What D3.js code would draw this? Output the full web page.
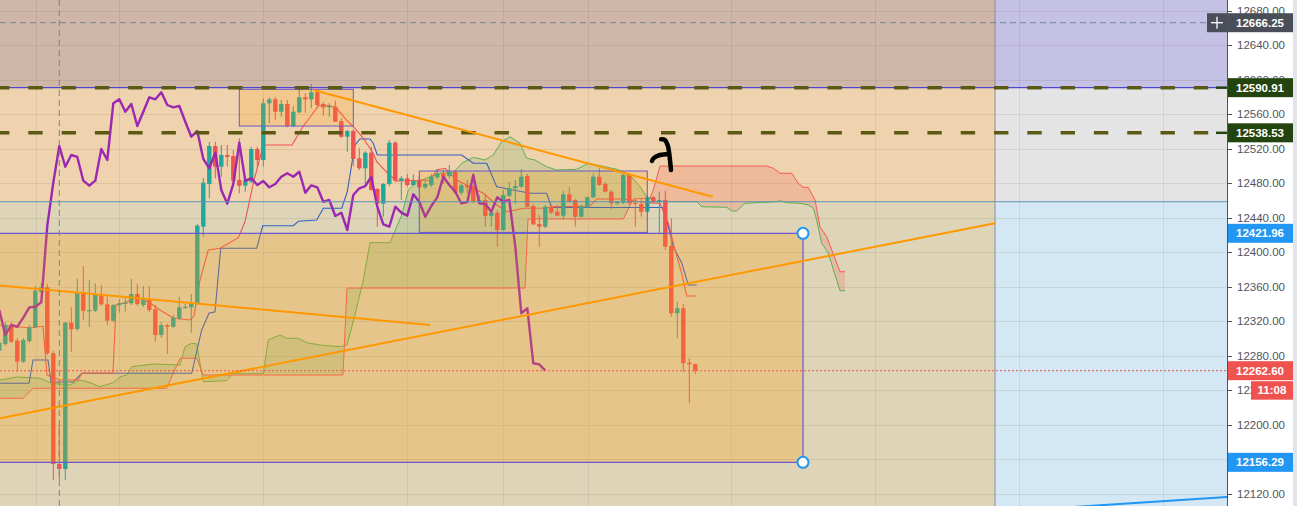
<!DOCTYPE html>
<html><head><meta charset="utf-8">
<script src="https://cdn.jsdelivr.net/npm/d3@7"></script>
<style>
html,body{margin:0;padding:0;background:#fff;overflow:hidden}
svg{display:block;font-family:"Liberation Sans",Arial,sans-serif}
</style></head><body>
<svg id="c" width="1297" height="506"></svg>
<script>
// ---------------- DATA ----------------
const firstIndex = -1;
const opens = [12285.8,12293.6,12315.6,12297.4,12273.0,12297.0,12312.9,12353.9,12359.3,12282.8,12154.4,12148.6,12318.3,12311.0,12353.1,12331.5,12332.2,12350.4,12339.6,12320.6,12338.5,12340.0,12340.8,12351.6,12338.8,12345.4,12333.8,12304.0,12315.6,12313.6,12322.9,12335.3,12336.1,12340.8,12429.6,12479.2,12523.2,12499.2,12512.8,12511.6,12483.8,12477.2,12481.8,12519.8,12507.0,12572.8,12577.4,12563.0,12572.0,12546.4,12562.3,12579.7,12577.4,12585.5,12572.0,12568.1,12568.8,12552.2,12534.0,12540.6,12509.0,12497.4,12515.5,12473.4,12456.3,12479.2,12527.1,12483.0,12485.8,12478.0,12482.6,12475.3,12478.0,12486.9,12491.6,12488.4,12493.4,12469.1,12477.6,12476.8,12458.6,12460.6,12442.0,12445.9,12425.8,12465.6,12474.2,12476.0,12488.4,12453.6,12432.8,12429.6,12452.8,12447.0,12442.4,12467.2,12460.6,12441.2,12452.1,12463.7,12487.6,12479.2,12470.2,12456.8,12457.5,12489.6,12457.5,12456.0,12447.0,12463.7,12459.1,12460.6,12407.2,12329.2,12335.0,12271.9,12270.4];
const highs = [12298.2,12319.1,12319.1,12300.5,12300.5,12315.6,12360.8,12364.3,12363.2,12285.4,12199.6,12319.1,12336.1,12369.0,12384.0,12367.8,12364.0,12362.0,12348.4,12340.0,12345.4,12346.6,12369.0,12363.2,12360.8,12360.8,12338.8,12319.1,12316.8,12327.2,12348.4,12340.0,12351.6,12432.8,12486.1,12527.9,12528.2,12524.4,12524.4,12518.6,12532.2,12485.0,12522.1,12522.1,12578.6,12579.7,12580.1,12576.6,12576.6,12569.6,12591.3,12584.4,12595.2,12588.2,12574.3,12572.8,12575.8,12555.4,12541.8,12543.0,12520.6,12517.4,12522.4,12474.5,12480.3,12530.2,12529.0,12488.4,12490.8,12490.4,12488.4,12483.8,12490.8,12496.2,12495.4,12501.2,12495.4,12479.2,12483.8,12491.6,12466.4,12467.6,12447.8,12449.0,12472.2,12481.8,12483.8,12496.2,12490.8,12456.0,12443.2,12454.8,12454.8,12454.8,12471.4,12475.3,12461.8,12454.8,12464.7,12491.6,12497.4,12481.5,12472.2,12459.4,12491.6,12491.6,12462.6,12462.6,12465.2,12465.2,12470.2,12471.4,12439.4,12342.6,12340.0,12277.0,12270.9];
const lows = [12284.3,12291.2,12294.7,12261.4,12271.5,12294.7,12312.1,12352.7,12280.8,12135.8,12135.8,12135.8,12284.6,12308.6,12321.4,12313.3,12330.7,12337.6,12315.6,12319.1,12329.9,12331.0,12338.8,12337.6,12336.5,12330.7,12296.2,12300.5,12282.0,12312.1,12321.4,12334.2,12306.7,12338.8,12418.0,12462.6,12485.8,12487.6,12499.2,12481.5,12468.4,12470.2,12480.3,12499.2,12499.2,12549.6,12553.4,12557.2,12544.9,12544.9,12561.5,12561.9,12567.0,12567.0,12558.4,12557.2,12551.1,12532.5,12516.6,12500.0,12495.4,12478.0,12471.4,12429.6,12441.2,12476.8,12481.5,12460.6,12475.7,12476.8,12472.2,12473.4,12475.7,12485.0,12479.2,12486.1,12467.6,12466.4,12468.7,12457.1,12457.1,12429.6,12429.6,12406.4,12424.6,12464.1,12456.0,12474.5,12451.9,12431.6,12406.4,12428.1,12444.4,12442.0,12438.2,12457.7,12429.6,12440.3,12451.0,12462.6,12476.8,12469.1,12449.8,12454.8,12456.0,12455.4,12429.6,12441.2,12445.9,12457.1,12422.0,12402.6,12325.2,12300.2,12261.4,12224.8,12258.8];
const closes = [12295.1,12315.6,12296.2,12273.0,12298.2,12312.9,12355.4,12359.3,12282.8,12154.4,12148.6,12318.3,12310.6,12353.1,12332.2,12333.0,12350.4,12339.6,12320.6,12338.8,12340.8,12341.5,12351.6,12340.0,12345.4,12333.0,12304.0,12315.6,12313.6,12324.1,12336.1,12336.8,12341.9,12430.8,12480.7,12523.2,12499.2,12512.8,12510.5,12483.0,12477.2,12483.0,12519.8,12507.0,12572.8,12577.4,12563.0,12572.0,12546.4,12563.0,12579.7,12577.4,12585.5,12570.8,12568.1,12569.6,12551.4,12534.0,12540.6,12508.2,12497.4,12515.5,12472.2,12456.3,12479.2,12527.1,12483.0,12485.8,12478.0,12482.6,12475.3,12479.2,12487.6,12491.6,12487.6,12493.4,12469.1,12477.6,12475.3,12458.6,12460.6,12442.0,12445.9,12425.8,12466.4,12474.2,12476.8,12487.6,12452.8,12432.4,12429.6,12452.8,12445.9,12442.4,12467.2,12458.6,12441.2,12453.6,12463.7,12487.6,12478.0,12470.2,12456.8,12458.3,12489.6,12456.8,12456.0,12447.0,12463.7,12458.6,12460.6,12406.4,12329.2,12335.0,12271.2,12270.0,12262.6];

// lagging span (purple), starts at bar index -1
const chikouStart = -1;
const chikou = [12333.0,12304.0,12315.6,12313.6,12324.1,12336.1,12336.8,12341.9,12430.8,12480.7,12523.2,12499.2,12512.8,12510.5,12483.0,12477.2,12483.0,12519.8,12507.0,12572.8,12577.4,12563.0,12572.0,12546.4,12563.0,12579.7,12577.4,12585.5,12570.8,12568.1,12569.6,12551.4,12534.0,12540.6,12508.2,12497.4,12515.5,12472.2,12456.3,12479.2,12527.1,12483.0,12485.8,12478.0,12482.6,12475.3,12479.2,12487.6,12491.6,12487.6,12493.4,12469.1,12477.6,12475.3,12458.6,12460.6,12442.0,12445.9,12425.8,12466.4,12474.2,12476.8,12487.6,12452.8,12432.4,12429.6,12452.8,12445.9,12442.4,12467.2,12458.6,12441.2,12453.6,12463.7,12487.6,12478.0,12470.2,12456.8,12458.3,12489.6,12456.8,12456.0,12447.0,12463.7,12458.6,12460.6,12406.4,12329.2,12335.0,12271.2,12270.0,12262.6];

// [bar index, price]
const tenkan = [[-0.88,12315.6],[4.12,12312.1],[6.28,12314.4],[6.95,12257.6],[9.12,12251.8],[12.12,12251.8],[12.78,12259.9],[17.95,12259.9],[18.45,12338.8],[20.28,12342.3],[21.95,12348.1],[24.12,12341.1],[25.78,12333.0],[27.95,12323.7],[30.78,12321.4],[31.45,12326.0],[32.45,12367.8],[33.83,12402.6],[35.78,12404.6],[38.83,12416.9],[39.95,12435.4],[41.33,12480.0],[43.0,12524.4],[47.78,12524.4],[49.67,12546.4],[51.07,12559.2],[52.17,12570.0],[54.12,12570.0],[55.23,12567.0],[56.62,12555.4],[58.28,12543.8],[59.67,12532.2],[61.33,12514.8],[61.9,12505.0],[63.83,12490.8],[65.23,12482.6],[70.78,12483.8],[71.9,12495.4],[73.28,12497.4],[75.23,12483.8],[77.45,12476.0],[79.67,12468.4],[81.9,12454.8],[83.57,12447.0],[86.33,12451.0],[90.23,12451.3],[91.33,12452.8],[97.45,12453.6],[98.57,12461.8],[103.0,12461.8],[106.9,12457.5],[109.12,12456.8],[110.5,12433.6],[111.62,12402.6],[112.73,12375.6],[113.57,12349.2],[115.0,12349.2]];
const kijun = [[-0.88,12248.0],[3.95,12248.0],[4.62,12275.0],[7.12,12275.0],[7.62,12249.5],[11.28,12249.5],[12.78,12259.6],[31.07,12259.6],[32.73,12309.8],[33.95,12329.2],[34.95,12331.0],[35.9,12404.6],[41.9,12404.6],[42.9,12430.8],[48.0,12430.8],[48.83,12435.9],[51.9,12437.4],[53.0,12451.0],[56.07,12451.0],[57.0,12470.2],[57.9,12509.0],[58.28,12524.4],[59.12,12531.4],[60.78,12531.4],[61.33,12526.4],[62.0,12512.8],[76.07,12512.8],[78.0,12503.2],[80.23,12503.2],[81.9,12476.0],[83.0,12474.5],[87.45,12468.4],[90.23,12468.4],[91.07,12451.9],[109.62,12451.9],[110.5,12429.6],[111.33,12406.4],[112.73,12387.8],[113.83,12362.0],[115.23,12362.0]];
const spanA = [[-0.88,12251.8],[1.9,12255.3],[5.78,12253.8],[7.73,12248.0],[10.78,12246.0],[12.45,12251.8],[14.12,12248.7],[15.78,12244.0],[18.0,12248.7],[19.12,12255.6],[20.23,12257.6],[21.07,12267.2],[24.67,12270.4],[29.12,12269.2],[29.95,12290.4],[31.07,12294.4],[31.9,12293.6],[33.0,12249.8],[36.9,12251.0],[38.0,12259.6],[43.0,12259.6],[43.83,12298.2],[45.78,12304.0],[46.9,12300.2],[48.83,12300.2],[50.23,12295.1],[52.45,12292.4],[55.78,12290.4],[56.95,12292.4],[58.28,12327.2],[59.67,12367.8],[60.78,12411.1],[64.12,12411.1],[66.07,12443.2],[67.17,12472.2],[68.57,12481.8],[72.45,12491.6],[74.67,12492.3],[76.07,12503.2],[78.0,12510.1],[79.95,12507.0],[81.33,12512.8],[82.73,12528.2],[84.12,12534.0],[85.78,12526.4],[86.9,12509.0],[88.28,12507.0],[90.23,12499.2],[91.9,12495.4],[95.23,12496.2],[97.17,12503.2],[98.57,12501.2],[101.9,12496.2],[104.12,12489.6],[105.78,12476.0],[106.9,12464.4],[108.28,12458.6],[115.23,12458.6],[116.07,12452.8],[120.23,12452.1],[121.07,12447.8],[121.9,12447.8],[123.28,12456.8],[128.57,12458.6],[129.12,12459.8],[130.23,12457.5],[132.45,12456.8],[133.83,12454.8],[134.67,12451.0],[135.23,12437.4],[136.07,12410.4],[137.17,12398.8],[139.12,12355.4],[139.95,12355.4]];
const spanB = [[-0.88,12230.6],[2.95,12230.6],[4.62,12242.2],[26.9,12242.2],[28.0,12259.6],[29.12,12277.0],[31.9,12277.0],[33.0,12257.6],[56.28,12257.6],[56.95,12358.5],[86.62,12358.5],[87.12,12438.6],[103.0,12438.6],[104.67,12461.8],[107.45,12462.6],[108.0,12472.2],[109.12,12500.0],[126.9,12500.0],[128.0,12497.4],[129.12,12491.6],[131.07,12491.6],[132.17,12480.0],[133.0,12475.3],[133.83,12475.3],[134.95,12460.6],[135.78,12429.6],[136.9,12418.0],[139.12,12377.4],[139.95,12377.4]];
const cloudCross = 107.3;

// drawings
const trendDown = [[51.33,12588.2],[117.9,12464.4]];
const trendFlat = [[-0.88,12361.4],[70.78,12315.6]];
const trendUp = [[-0.88,12207.4],[164.95,12433.6]];
const blueRay = [[175,12103.1],[204,12116.3]];
const boxTop = [[39.0,12589.0],[58.0,12546.4]];
const boxMid = [[69.0,12494.2],[107.0,12423.0]];
const brush1 = [[109.3,12531.0],[109.9,12530.4],[110.4,12524.0],[110.62,12516.3],[110.78,12507.0],[110.95,12495.4]];
const brush2 = [[107.78,12506.0],[108.12,12509.5],[109.12,12512.8],[110.62,12514.0]];
const zoneSplitIdx = 164.95;
const rangeEndIdx = 132.95;
const levelTop = 12590.91, levelSecond = 12538.53, levelBlue = 12458.6;
const rangeHigh = 12421.96, rangeLow = 12156.29;
const lastPrice = 12262.60;
const crossPrice = 12666.25, crossIdx = 9;
const gridIdx = [5.1,19,43,67,83,97.1,121,145,169,193];
// tick values; 12160 is fully covered by the 12156.29 tag in the reference
const yTicks = [12120,12200,12240,12280,12320,12360,12400,12440,12480,12520,12560,12600,12640,12680];
const gridTicks = [12120,12160,12200,12240,12280,12320,12360,12400,12440,12480,12520,12560,12600,12640,12680];
const tags = [
  {v:12666.25, t:"12666.25", bg:"#4a4e59"},
  {v:12590.91, t:"12590.91", bg:"#24440f"},
  {v:12538.53, t:"12538.53", bg:"#24440f"},
  {v:12421.96, t:"12421.96", bg:"#2196f3"},
  {v:12262.60, t:"12262.60", bg:"#ef5350"},
  {v:12156.29, t:"12156.29", bg:"#2196f3"}
];
const countdown = "11:08";

// ---------------- RENDER ----------------
const W = 1297, H = 506, PW = 1227;
const x = d3.scaleLinear().domain([0, 100]).range([5.3, 605.3]);
const y = d3.scaleLinear().domain([12105.64, 12692.6]).range([H, 0]);
const svg = d3.select("#c");
const defs = svg.append("defs");
defs.append("clipPath").attr("id", "plot").append("rect").attr("x", 0).attr("y", 0).attr("width", PW).attr("height", H);
defs.append("clipPath").attr("id", "cg").append("rect").attr("x", 0).attr("y", 0).attr("width", x(cloudCross)).attr("height", H);
defs.append("clipPath").attr("id", "cr").append("rect").attr("x", x(cloudCross)).attr("y", 0).attr("width", PW - x(cloudCross)).attr("height", H);

const g = svg.append("g").attr("clip-path", "url(#plot)");
const line = d3.line().x(d => x(d[0])).y(d => y(d[1]));
const xs = x(zoneSplitIdx);

// background bands
const bands = [
  {a: y.domain()[1], b: levelTop, l: "#d0b6a8", r: "#c5c1e4"},
  {a: levelTop, b: levelBlue, l: "#efd3ae", r: "#e4e4e4"},
  {a: levelBlue, b: y.domain()[0], l: "#ded5b9", r: "#d3e8f4"}
];
bands.forEach(bd => {
  g.append("rect").attr("x", 0).attr("y", y(bd.a)).attr("width", xs).attr("height", y(bd.b) - y(bd.a)).attr("fill", bd.l);
  g.append("rect").attr("x", xs).attr("y", y(bd.a)).attr("width", PW - xs).attr("height", y(bd.b) - y(bd.a)).attr("fill", bd.r);
});

// grid
g.selectAll(".hg").data(gridTicks).enter().append("line")
  .attr("x1", 0).attr("x2", PW).attr("y1", d => Math.round(y(d)) + 0.5).attr("y2", d => Math.round(y(d)) + 0.5)
  .attr("stroke", "rgba(90,70,50,0.11)");
g.selectAll(".vg").data(gridIdx).enter().append("line")
  .attr("x1", d => Math.round(x(d)) + 0.5).attr("x2", d => Math.round(x(d)) + 0.5).attr("y1", 0).attr("y2", H)
  .attr("stroke", "rgba(90,70,50,0.10)");

// cloud
const cloudPath = line(spanA) + line(spanB.slice().reverse()).replace(/^M/, "L") + "Z";
g.append("path").attr("d", cloudPath).attr("fill", "rgba(67,160,71,0.16)").attr("clip-path", "url(#cg)");
g.append("path").attr("d", cloudPath).attr("fill", "rgba(244,67,54,0.17)").attr("clip-path", "url(#cr)");
g.append("path").attr("d", line(spanA)).attr("fill", "none").attr("stroke", "#5fb14f").attr("stroke-width", 1);
g.append("path").attr("d", line(spanB)).attr("fill", "none").attr("stroke", "#f25a5a").attr("stroke-width", 1);
g.append("path").attr("d", line(kijun)).attr("fill", "none").attr("stroke", "#3060c4").attr("stroke-width", 1.1);
g.append("path").attr("d", line(tenkan)).attr("fill", "none").attr("stroke", "#ef5350").attr("stroke-width", 1.1);

// candles
const candles = opens.map((o, k) => ({i: firstIndex + k, o, h: highs[k], l: lows[k], c: closes[k]}));
const cg = g.append("g");
candles.forEach(d => {
  const col = d.c >= d.o ? "#26a69a" : "#ef5350";
  const cx = x(d.i);
  cg.append("line").attr("x1", cx).attr("x2", cx).attr("y1", y(d.h)).attr("y2", y(d.l)).attr("stroke", col).attr("stroke-width", 1);
  const top = y(Math.max(d.o, d.c)), bot = y(Math.min(d.o, d.c));
  cg.append("rect").attr("x", cx - 2.2).attr("y", top).attr("width", 4.4).attr("height", Math.max(1, bot - top)).attr("fill", col);
});

// lagging span
g.append("path").attr("d", line(chikou.map((v, k) => [chikouStart + k, v])))
  .attr("fill", "none").attr("stroke", "#9c27b0").attr("stroke-width", 2.4).attr("stroke-linejoin", "round");

// range box overlay (orange)
g.append("rect").attr("x", 0).attr("y", y(rangeHigh)).attr("width", x(rangeEndIdx)).attr("height", y(rangeLow) - y(rangeHigh))
  .attr("fill", "rgba(255,152,0,0.25)");

// small rectangles
[boxTop, boxMid].forEach(b => {
  g.append("rect").attr("x", x(b[0][0])).attr("y", y(b[0][1])).attr("width", x(b[1][0]) - x(b[0][0])).attr("height", y(b[1][1]) - y(b[0][1]))
    .attr("fill", "rgba(255,152,0,0.18)").attr("stroke", "#6a58c8").attr("stroke-width", 1);
});

// horizontal levels
g.append("line").attr("x1", 0).attr("x2", PW).attr("y1", y(levelBlue)).attr("y2", y(levelBlue)).attr("stroke", "#5f93b3").attr("stroke-width", 1);
g.append("line").attr("x1", xs).attr("x2", xs).attr("y1", 0).attr("y2", H).attr("stroke", "#8a8d96").attr("stroke-width", 1);
g.append("line").attr("x1", 0).attr("x2", PW).attr("y1", y(levelTop)).attr("y2", y(levelTop)).attr("stroke", "#4d44d0").attr("stroke-width", 1.2);
[rangeHigh, rangeLow].forEach(v => {
  g.append("line").attr("x1", 0).attr("x2", x(rangeEndIdx)).attr("y1", y(v)).attr("y2", y(v)).attr("stroke", "#6a58d0").attr("stroke-width", 1.2);
});
g.append("line").attr("x1", x(rangeEndIdx)).attr("x2", x(rangeEndIdx)).attr("y1", y(rangeHigh)).attr("y2", y(rangeLow)).attr("stroke", "#6a58d0").attr("stroke-width", 1.2);

// dashed olive levels
[levelTop, levelSecond].forEach(v => {
  g.append("line").attr("x1", 0).attr("x2", 1210).attr("y1", y(v)).attr("y2", y(v))
    .attr("stroke", "#5c5a12").attr("stroke-width", 3.5).attr("stroke-dasharray", "14.4,18.9").attr("stroke-dashoffset", 5);
  g.append("line").attr("x1", 1216).attr("x2", PW).attr("y1", y(v)).attr("y2", y(v)).attr("stroke", "#24440f").attr("stroke-width", 2.5);
});

// trend lines
[trendDown, trendFlat, trendUp].forEach(t => {
  g.append("path").attr("d", line(t)).attr("fill", "none").attr("stroke", "#ff9800").attr("stroke-width", 2);
});
g.append("path").attr("d", line(blueRay)).attr("fill", "none").attr("stroke", "#2196f3").attr("stroke-width", 2);

// brush
[brush1, brush2].forEach(b => {
  g.append("path").attr("d", d3.line().curve(d3.curveCatmullRom).x(d => x(d[0])).y(d => y(d[1]))(b))
    .attr("fill", "none").attr("stroke", "#000").attr("stroke-width", 4.5).attr("stroke-linecap", "round").attr("stroke-linejoin", "round");
});

// handles
[rangeHigh, rangeLow].forEach(v => {
  g.append("circle").attr("cx", x(rangeEndIdx)).attr("cy", y(v)).attr("r", 5.5).attr("fill", "#fff").attr("stroke", "#2196f3").attr("stroke-width", 2);
});

// last price line
g.append("line").attr("x1", 0).attr("x2", PW).attr("y1", y(lastPrice)).attr("y2", y(lastPrice))
  .attr("stroke", "#ef5350").attr("stroke-width", 1).attr("stroke-dasharray", "2,2");

// crosshair
g.append("line").attr("x1", x(crossIdx)).attr("x2", x(crossIdx)).attr("y1", 0).attr("y2", H)
  .attr("stroke", "#758696").attr("stroke-width", 1).attr("stroke-dasharray", "6,4");
g.append("line").attr("x1", 0).attr("x2", PW).attr("y1", y(crossPrice)).attr("y2", y(crossPrice))
  .attr("stroke", "#758696").attr("stroke-width", 1).attr("stroke-dasharray", "6,4");

// ---------------- AXIS ----------------
svg.append("rect").attr("x", PW).attr("y", 0).attr("width", W - PW).attr("height", H).attr("fill", "#ffffff");
svg.append("rect").attr("x", 1293).attr("y", 0).attr("width", 4).attr("height", H).attr("fill", "#e0e3eb");
svg.append("line").attr("x1", PW + 0.5).attr("x2", PW + 0.5).attr("y1", 0).attr("y2", H).attr("stroke", "#50535e").attr("stroke-width", 1);
const lpY = y(lastPrice);
// clip regions for tick labels that are partly hidden by tags
defs.append("clipPath").attr("id", "clip600").append("rect").attr("x", PW).attr("y", 0).attr("width", W - PW).attr("height", y(levelTop) - 9.5);
defs.append("clipPath").attr("id", "clip240").append("rect").attr("x", PW).attr("y", lpY + 10.5).attr("width", 1251 - PW).attr("height", 30);
const ax = svg.append("g");
gridTicks.forEach(v => {
  ax.append("line").attr("x1", PW).attr("x2", PW + 5).attr("y1", Math.round(y(v)) + 0.5).attr("y2", Math.round(y(v)) + 0.5).attr("stroke", "#50535e");
});
yTicks.forEach(v => {
  const t = ax.append("text").attr("x", 1237).attr("y", y(v)).attr("dy", "0.35em").attr("font-size", "11.5px").attr("fill", "#50535e").text(d3.format(".2f")(v));
  if (v === 12600) t.attr("clip-path", "url(#clip600)");
  if (v === 12240) t.attr("clip-path", "url(#clip240)");
});
tags.forEach(tg => {
  const cy = y(tg.v);
  ax.append("rect").attr("x", PW + 1).attr("y", cy - 9.5).attr("width", 1293 - PW - 1).attr("height", 19).attr("fill", tg.bg);
  ax.append("text").attr("x", 1236).attr("y", cy).attr("dy", "0.35em").attr("font-size", "11.5px").attr("font-weight", "bold").attr("fill", "#fff").text(tg.t);
});
// countdown
ax.append("rect").attr("x", 1251).attr("y", lpY + 10.5).attr("width", 42).attr("height", 18.5).attr("fill", "#ef5350");
ax.append("text").attr("x", 1272).attr("y", lpY + 19.75).attr("dy", "0.35em").attr("text-anchor", "middle").attr("font-size", "11.5px").attr("font-weight", "bold").attr("fill", "#fff").text(countdown);
// plus button
const cpY = y(crossPrice);
ax.append("rect").attr("x", 1207).attr("y", cpY - 9.5).attr("width", 20).attr("height", 19).attr("fill", "#4a4e59");
ax.append("line").attr("x1", 1211).attr("x2", 1223).attr("y1", cpY).attr("y2", cpY).attr("stroke", "#fff").attr("stroke-width", 1.3);
ax.append("line").attr("x1", 1217).attr("x2", 1217).attr("y1", cpY - 6).attr("y2", cpY + 6).attr("stroke", "#fff").attr("stroke-width", 1.3);
</script>
</body></html>
